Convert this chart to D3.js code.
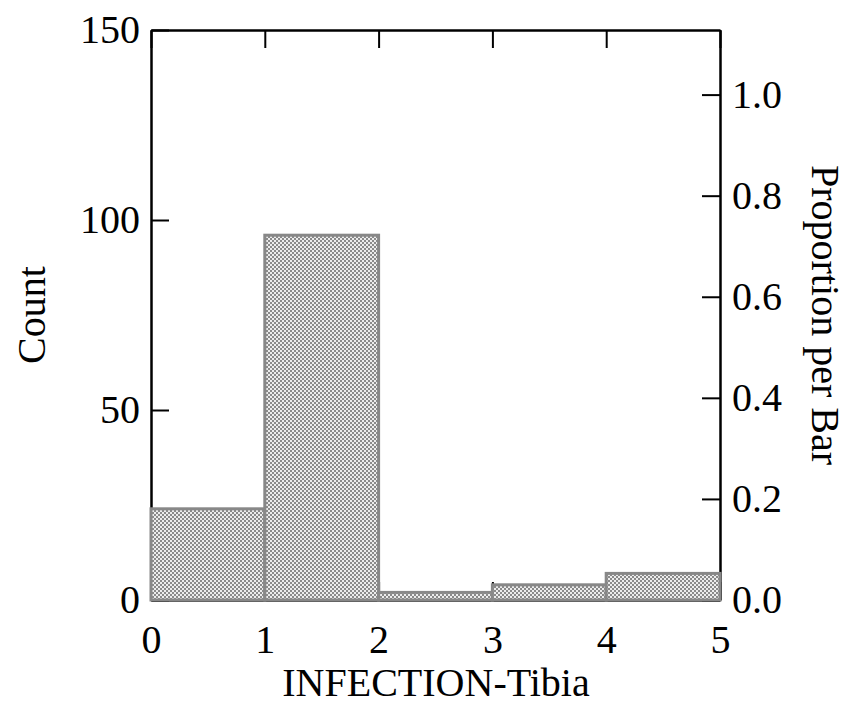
<!DOCTYPE html>
<html><head><meta charset="utf-8">
<script src="https://cdn.jsdelivr.net/npm/d3@7"></script>
<style>body{margin:0;background:#fff}svg{display:block}</style>
</head><body>
<svg id="chart" width="850" height="706"></svg>
<script>
const binStarts = [0, 1, 2, 3, 4];
const binEnds = [1, 2, 3, 4, 5];
const counts = [24, 96, 2, 4, 7];
const xTicks = [0, 1, 2, 3, 4, 5];
const countTicks = [0, 50, 100, 150];
const propTicks = [0.0, 0.2, 0.4, 0.6, 0.8, 1.0];
const xTitle = "INFECTION-Tibia";
const yTitle = "Count";
const y2Title = "Proportion per Bar";

(function () {
const svg = d3.select("#chart");
const L = 151, R = 720, T = 30, B = 600;
const total = d3.sum(counts);
const x = d3.scaleLinear().domain([0, 5]).range([L, R]);
const y = d3.scaleLinear().domain([0, 150]).range([B, T]);
const y2 = d3.scaleLinear().domain([0, 150 / total]).range([B, T]);

const defs = svg.append("defs");
const pat = defs.append("pattern").attr("id", "hatch").attr("patternUnits", "userSpaceOnUse")
  .attr("width", 4).attr("height", 4);
pat.append("rect").attr("width", 4).attr("height", 4).attr("fill", "#ececec");
pat.append("rect").attr("x", 0).attr("y", 0).attr("width", 2).attr("height", 2).attr("fill", "#8a8a8a");
pat.append("rect").attr("x", 2).attr("y", 2).attr("width", 2).attr("height", 2).attr("fill", "#8a8a8a");

const font = "'Liberation Serif', 'Times New Roman', serif";
const tickLen = 18;
const fs = 40;

const axBottom = d3.axisBottom(x).tickValues(xTicks).tickSizeInner(-tickLen).tickSizeOuter(0).tickPadding(8).tickFormat(d3.format("d"));
const axTop = d3.axisTop(x).tickValues(xTicks).tickSizeInner(-tickLen).tickSizeOuter(0).tickFormat("");
const axLeft = d3.axisLeft(y).tickValues(countTicks).tickSizeInner(-tickLen).tickSizeOuter(0).tickPadding(11).tickFormat(d3.format("d"));
const axRight = d3.axisRight(y2).tickValues(propTicks).tickSizeInner(-tickLen).tickSizeOuter(0).tickPadding(12).tickFormat(d3.format(".1f"));

function style(g) {
  g.selectAll("path.domain").attr("stroke", "#000").attr("stroke-width", 2.5);
  g.selectAll(".tick line").attr("stroke", "#000").attr("stroke-width", 2);
  g.selectAll(".tick text").attr("font-family", font).attr("font-size", fs).attr("fill", "#000");
}
const gb = svg.append("g").attr("transform", `translate(0,${B})`).call(axBottom).call(style);
gb.selectAll(".tick text").attr("y", 53).attr("dy", 0);
svg.append("g").attr("transform", `translate(0,${T})`).call(axTop).call(style);
svg.append("g").attr("transform", `translate(${L},0)`).call(axLeft).call(style);
svg.append("g").attr("transform", `translate(${R},0)`).call(axRight).call(style);

svg.append("g").selectAll("rect").data(counts).join("rect")
  .attr("x", (d, i) => x(binStarts[i]))
  .attr("width", (d, i) => x(binEnds[i]) - x(binStarts[i]))
  .attr("y", d => y(d))
  .attr("height", d => y(0) - y(d))
  .attr("fill", "url(#hatch)")
  .attr("stroke", "#888").attr("stroke-width", 3);

svg.append("text").attr("x", 436).attr("y", 696).attr("text-anchor", "middle")
  .attr("font-family", font).attr("font-size", 40).text(xTitle);
svg.append("text").attr("transform", `translate(45,315) rotate(-90)`).attr("text-anchor", "middle")
  .attr("font-family", font).attr("font-size", 40).text(yTitle);
svg.append("text").attr("transform", `translate(812,315) rotate(90)`).attr("text-anchor", "middle")
  .attr("font-family", font).attr("font-size", 40).text(y2Title);
})();
</script>
</body></html>
